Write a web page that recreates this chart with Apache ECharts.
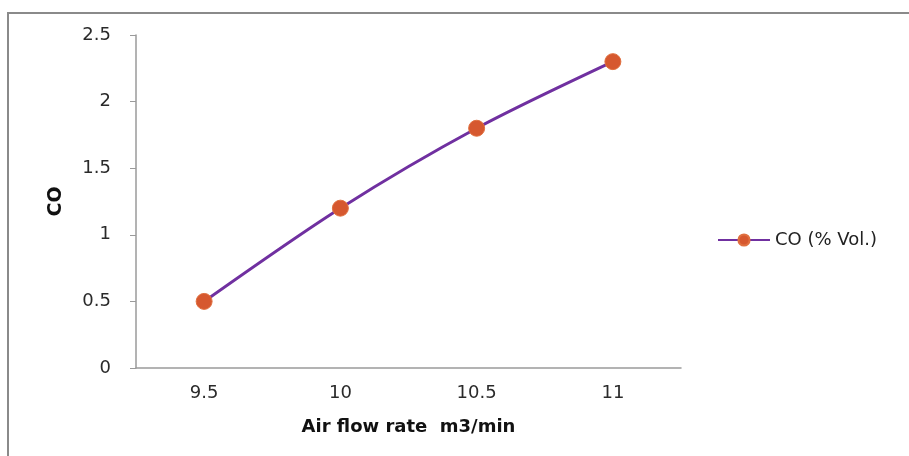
<!DOCTYPE html>
<html>
<head>
<meta charset="utf-8">
<script src="https://cdn.jsdelivr.net/npm/echarts@6/dist/echarts.min.js"></script>
<style>
  html, body { margin: 0; padding: 0; background: #fff; }
  #frame { position: absolute; left: 7px; top: 12px; width: 910px; height: 450px; border: 2px solid #8a8a8a; box-sizing: border-box; }
  #chart { position: absolute; left: 0; top: 0; width: 909px; height: 456px; }
</style>
</head>
<body>
<div id="frame"></div>
<div id="chart"></div>
<script>
// Air flow rate (m3/min) against CO content
const flowRates = ['9.5', '10', '10.5', '11'];
const coValues = [0.5, 1.2, 1.8, 2.3];
const yTicks = { min: 0, max: 2.5, interval: 0.5 };

const chart = echarts.init(document.getElementById('chart'), null, { renderer: 'canvas' });
const fontFamily = 'DejaVu Sans, Verdana, sans-serif';
const labelFont = { fontFamily: fontFamily, fontSize: 18, color: '#2a2a2a' };

chart.setOption({
  backgroundColor: 'transparent',
  animation: false,
  grid: { left: 136, top: 35, width: 545, height: 333, containLabel: false },
  legend: {
    data: ['CO (% Vol.)'],
    orient: 'vertical',
    left: 712,
    top: 226,
    itemWidth: 52,
    itemHeight: 14,
    itemGap: 4,
    textStyle: Object.assign({}, labelFont, { fontSize: 18, color: '#222' })
  },
  xAxis: {
    type: 'category',
    data: flowRates,
    boundaryGap: true,
    name: 'Air flow rate  m3/min',
    nameLocation: 'middle',
    nameGap: 50,
    nameTextStyle: { fontFamily: fontFamily, fontSize: 18, fontWeight: 'bold', color: '#111' },
    axisLine: { lineStyle: { color: '#9a9a9a', width: 1.5 } },
    axisTick: { show: false },
    axisLabel: Object.assign({ margin: 16 }, labelFont),
    splitLine: { show: false }
  },
  yAxis: {
    type: 'value',
    min: yTicks.min,
    max: yTicks.max,
    interval: yTicks.interval,
    name: 'CO',
    nameLocation: 'middle',
    nameGap: 70,
    nameRotate: 90,
    nameTextStyle: { fontFamily: fontFamily, fontSize: 19, fontWeight: 'bold', color: '#111' },
    axisLine: { show: true, lineStyle: { color: '#9a9a9a', width: 1.5 } },
    axisTick: { show: true, inside: false, length: 6, lineStyle: { color: '#9a9a9a' } },
    axisLabel: Object.assign({ margin: 25, formatter: v => String(v) }, labelFont),
    splitLine: { show: false }
  },
  series: [{
    name: 'CO (% Vol.)',
    type: 'line',
    data: coValues,
    smooth: 0.3,
    symbol: 'circle',
    symbolSize: 16,
    lineStyle: { color: '#7030A0', width: 3 },
    itemStyle: { color: '#D6582F', borderColor: '#E07040', borderWidth: 1 }
  }]
});
</script>
</body>
</html>
